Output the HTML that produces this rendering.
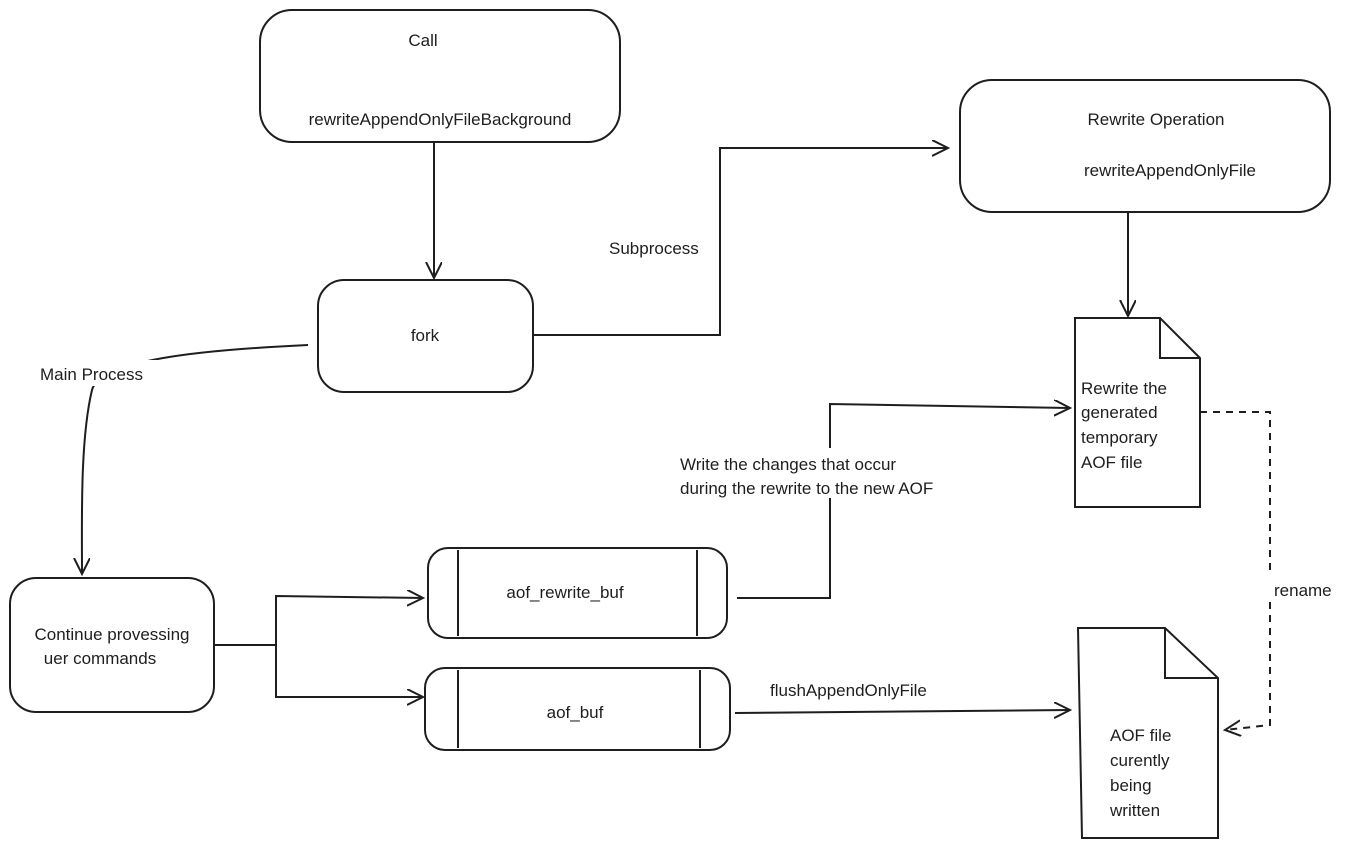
<!DOCTYPE html>
<html><head><meta charset="utf-8"><style>
html,body{margin:0;padding:0;background:#fff;}
svg{display:block;}
text{font-family:"Liberation Sans",sans-serif;font-size:17px;fill:#1e1e1e;}
</style></head><body>
<svg width="1367" height="850" viewBox="0 0 1367 850" xmlns="http://www.w3.org/2000/svg">
<defs>
<marker id="ah" markerWidth="20" markerHeight="20" refX="16" refY="8" orient="auto" markerUnits="userSpaceOnUse">
<path d="M0,0 L16,8 L0,16" fill="none" stroke="#1e1e1e" stroke-width="2"/>
</marker>
</defs>
<g fill="none" stroke="#1e1e1e" stroke-width="2">
<rect x="260" y="10" width="360" height="132" rx="32"/>
<rect x="318" y="280" width="215" height="112" rx="26"/>
<rect x="960" y="80" width="370" height="132" rx="32"/>
<rect x="10" y="578" width="204" height="134" rx="26"/>
<rect x="428" y="548" width="299" height="90" rx="20"/>
<line x1="458" y1="550" x2="458" y2="636"/><line x1="697" y1="550" x2="697" y2="636"/>
<rect x="425" y="668" width="305" height="82" rx="20"/>
<line x1="458" y1="670" x2="458" y2="748"/><line x1="700" y1="670" x2="700" y2="748"/>
<path d="M1075,318 L1160,318 L1200,358 L1200,507 L1075,507 Z"/>
<path d="M1160,318 L1160,358 L1200,358"/>
<path d="M1078,628 L1165,628 L1218,678 L1218,838 L1082,838 Z"/>
<path d="M1165,628 L1165,678 L1218,678"/>
<line x1="434" y1="142" x2="434" y2="278" marker-end="url(#ah)"/>
<polyline points="533,335 720,335 720,148 948,148" marker-end="url(#ah)"/>
<line x1="1128" y1="212" x2="1128" y2="316" marker-end="url(#ah)"/>
<path d="M308,345 C200,350 100,360 92,390 C80,440 82,520 82,574" marker-end="url(#ah)"/>
<polyline points="214,645 276,645"/>
<polyline points="276,645 276,596 423,598" marker-end="url(#ah)"/>
<polyline points="276,645 276,697 423,697" marker-end="url(#ah)"/>
<polyline points="737,598 830,598 830,404 1070,408" marker-end="url(#ah)"/>
<line x1="735" y1="713" x2="1070" y2="710" marker-end="url(#ah)"/>
<polyline points="1200,412 1270,412 1270,725 1225,730" stroke-dasharray="7,6" marker-end="url(#ah)"/>
</g>
<rect x="672" y="448" width="360" height="50" fill="#fff"/>
<rect x="603" y="235" width="115" height="26" fill="#fff"/>
<rect x="36" y="360" width="136" height="26" fill="#fff"/>
<rect x="1268" y="576" width="78" height="26" fill="#fff"/>
<g text-anchor="middle">
<text x="423" y="46">Call</text>
<text x="440" y="125">rewriteAppendOnlyFileBackground</text>
<text x="425" y="341">fork</text>
<text x="1156" y="125">Rewrite Operation</text>
<text x="1170" y="176">rewriteAppendOnlyFile</text>
<text x="112" y="640">Continue provessing</text>
<text x="100" y="664">uer commands</text>
<text x="565" y="598">aof_rewrite_buf</text>
<text x="575" y="718">aof_buf</text>
</g>
<text x="609" y="254">Subprocess</text>
<text x="40" y="380">Main Process</text>
<text x="680" y="470">Write the changes that occur</text>
<text x="680" y="494">during the rewrite to the new AOF</text>
<text x="770" y="696">flushAppendOnlyFile</text>
<text x="1274" y="596">rename</text>
<text x="1081" y="394">Rewrite the</text>
<text x="1081" y="418">generated</text>
<text x="1081" y="443">temporary</text>
<text x="1081" y="468">AOF file</text>
<text x="1110" y="741">AOF file</text>
<text x="1110" y="766">curently</text>
<text x="1110" y="791">being</text>
<text x="1110" y="816">written</text>
</svg>
</body></html>
